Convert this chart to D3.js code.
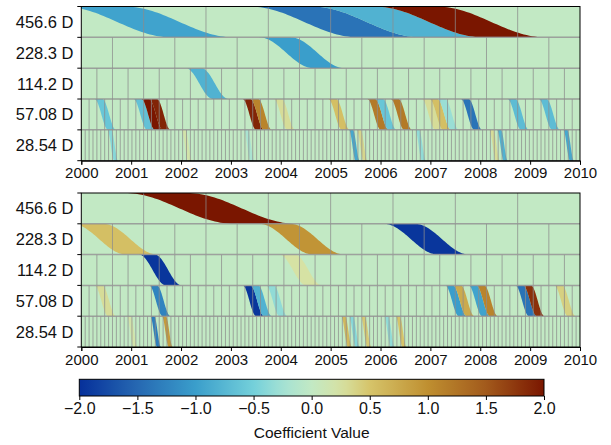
<!DOCTYPE html>
<html>
<head>
<meta charset="utf-8">
<script src="https://cdn.jsdelivr.net/npm/d3@7/dist/d3.min.js"></script>
<style>
  body { margin: 0; background: #fff; }
  text { font-family: "Liberation Sans", Arial, sans-serif; fill: #111; }
</style>
</head>
<body>
<div id="chart"></div>
<script>
// ---- data ----
const rowLabels = ["456.6 D", "228.3 D", "114.2 D", "57.08 D", "28.54 D"];
const rowCellYears = [1.25, 0.625, 0.3125, 0.15625, 0.078125];
const yearTicks = [2000, 2001, 2002, 2003, 2004, 2005, 2006, 2007, 2008, 2009, 2010];
const cbTicks = [-2.0, -1.5, -1.0, -0.5, 0.0, 0.5, 1.0, 1.5, 2.0];

// [cell index, coefficient value] for every non-zero cell
const topL1 = [[0, -0.95], [3, -1.4], [4, -0.8], [5, 2.0]];
const topL2 = [[6, -1.0]];
const topL3 = [[7, -0.8]];
const topL4 = [[2, -0.6], [7, -0.65], [8, 2.0], [9, 1.9], [21, 1.9], [22, 1.1], [25, 0.3],
  [32, 0.55], [37, 1.2], [38, -0.6], [40, 1.2], [44, 0.3], [45, 0.55], [46, -0.3],
  [49, -1.4], [55, -0.7], [59, -0.7]];
const topL5 = [[7, -0.4], [26, 0.2], [42, -0.2], [69, -0.9], [71, 0.35], [86, -0.35],
  [105, 0.3], [107, -0.8], [124, -0.9]];

const botL1 = [[1, 2.0]];
const botL2 = [[0, 0.55], [6, 0.95], [10, -1.95]];
const botL3 = [[4, -1.95], [13, 0.25]];
const botL4 = [[2, 0.3], [9, -1.25], [21, -1.95], [22, -0.8], [24, -0.35], [47, -1.0],
  [48, 0.75], [50, -0.95], [51, 1.1], [56, -1.4], [57, 1.8], [61, 0.4]];
const botL5 = [[12, 0.2], [18, -1.3], [21, 0.9], [67, 0.6], [69, -0.4], [72, 0.45],
  [78, -0.35], [81, 0.5]];

const colorStops = [-2.0, -1.5, -1.0, -0.5, -0.25, 0.0, 0.25, 0.5, 1.0, 1.5, 2.0];
const colorRange = ["#06309a", "#2668b2", "#3a9ecb", "#74d0da", "#a4e2d4", "#c2e9c4",
  "#d6e2a4", "#d6c46a", "#bf8f30", "#a25a1c", "#7a1600"];

// ---- layout ----
const W = 611, H = 445;
const X0 = 81.3, X1 = 580;
const panels = [
  { top: 6.5, bottom: 160.7, levels: [topL1, topL2, topL3, topL4, topL5] },
  { top: 193, bottom: 347, levels: [botL1, botL2, botL3, botL4, botL5] }
];
const OFF = -0.3;   // where a cell's ribbon leaves the top edge, in cells
const SHIFT = 1.75; // horizontal travel of the ribbon, in cells

const color = d3.scaleLinear().domain(colorStops).range(colorRange).clamp(true);
const x = d3.scaleLinear().domain([2000, 2010]).range([X0, X1]);

const svg = d3.select("#chart").append("svg").attr("width", W).attr("height", H);
const defs = svg.append("defs");

const sig = (t) => (t <= 0 ? 0 : t >= 1 ? 1 : (1 - Math.cos(Math.PI * t)) / 2);

function ribbon(k, cy, y0, h) {
  const a = 2000 + (k + OFF) * cy, d = SHIFT * cy;
  const pts = [];
  const n = 40;
  for (let i = 0; i <= n; i++) {
    const t = i / n;
    pts.push([x(a + t * d), y0 + h * sig(t)]);
  }
  for (let i = n; i >= 0; i--) {
    const t = i / n;
    pts.push([x(a + cy + t * d), y0 + h * sig(t)]);
  }
  return d3.line()(pts) + "Z";
}

panels.forEach((p, pi) => {
  const y = d3.scaleBand().domain(rowLabels).range([p.top, p.bottom]);
  const h = y.bandwidth();
  const g = svg.append("g");

  rowLabels.forEach((lab, r) => {
    const y0 = y(lab);
    const cy = rowCellYears[r];
    const id = `clip${pi}_${r}`;
    defs.append("clipPath").attr("id", id)
      .append("rect").attr("x", X0).attr("y", y0).attr("width", X1 - X0).attr("height", h);
    const rg = g.append("g").attr("clip-path", `url(#${id})`);
    rg.append("rect").attr("x", X0).attr("y", y0).attr("width", X1 - X0).attr("height", h)
      .attr("fill", color(0));
    rg.selectAll("path.band").data(p.levels[r]).join("path")
      .attr("class", "band")
      .attr("d", (d) => ribbon(d[0], cy, y0, h))
      .attr("fill", (d) => color(d[1]));

    // cell boundaries
    const nCells = Math.round(10 / cy);
    rg.selectAll("line.cell").data(d3.range(1, nCells)).join("line")
      .attr("class", "cell")
      .attr("x1", (k) => x(2000 + k * cy)).attr("x2", (k) => x(2000 + k * cy))
      .attr("y1", y0).attr("y2", y0 + h)
      .attr("stroke", "#8c8c8c").attr("stroke-opacity", 0.75).attr("stroke-width", 1);

    g.append("text").attr("x", 73.5).attr("y", y0 + h / 2).attr("dy", "0.36em")
      .attr("text-anchor", "end").attr("font-size", 16.5).text(lab);
  });

  // row separators
  g.selectAll("line.sep").data(rowLabels.slice(1)).join("line")
    .attr("class", "sep")
    .attr("x1", X0).attr("x2", X1).attr("y1", (d) => y(d)).attr("y2", (d) => y(d))
    .attr("stroke", "#8c8c8c").attr("stroke-opacity", 0.8).attr("stroke-width", 1.5);

  // left ticks at row boundaries
  const bounds = rowLabels.map((l) => y(l)).concat([p.bottom]);
  g.selectAll("line.lt").data(bounds).join("line")
    .attr("x1", X0 - 4).attr("x2", X0).attr("y1", (d) => d).attr("y2", (d) => d)
    .attr("stroke", "#000").attr("stroke-width", 1);

  // frame
  g.append("rect").attr("x", X0).attr("y", p.top).attr("width", X1 - X0)
    .attr("height", p.bottom - p.top).attr("fill", "none").attr("stroke", "#000").attr("stroke-width", 1);

  const ax = g.append("g").attr("transform", `translate(0,${p.bottom})`)
    .call(d3.axisBottom(x).tickValues(yearTicks).tickFormat(d3.format("d")).tickSize(4).tickPadding(3));
  ax.selectAll("text").attr("font-size", 15).attr("font-family", "Liberation Sans, Arial, sans-serif");
  ax.select(".domain").attr("stroke", "#000");
});

// ---- colourbar ----
const cbX0 = 79.3, cbX1 = 544, cbY = 379.3, cbH = 16.7;
const cb = d3.scaleLinear().domain([-2, 2]).range([cbX0, cbX1]);
const grad = defs.append("linearGradient").attr("id", "cbgrad");
grad.selectAll("stop").data(d3.range(0, 41)).join("stop")
  .attr("offset", (i) => `${i * 2.5}%`)
  .attr("stop-color", (i) => color(-2 + i * 0.1));
svg.append("rect").attr("x", cbX0).attr("y", cbY).attr("width", cbX1 - cbX0).attr("height", cbH)
  .attr("fill", "url(#cbgrad)").attr("stroke", "#000").attr("stroke-width", 1);
const cbAx = svg.append("g").attr("transform", `translate(0,${cbY + cbH})`)
  .call(d3.axisBottom(cb).tickValues(cbTicks)
    .tickFormat((d) => d3.format(".1f")(d).replace("-", "\u2212")).tickSize(4).tickPadding(3));
cbAx.select(".domain").remove();
cbAx.selectAll("text").attr("font-size", 16).attr("font-family", "Liberation Sans, Arial, sans-serif");
svg.append("text").attr("x", (cbX0 + cbX1) / 2).attr("y", 438).attr("text-anchor", "middle")
  .attr("font-size", 15.5).text("Coefficient Value");
</script>
</body>
</html>
